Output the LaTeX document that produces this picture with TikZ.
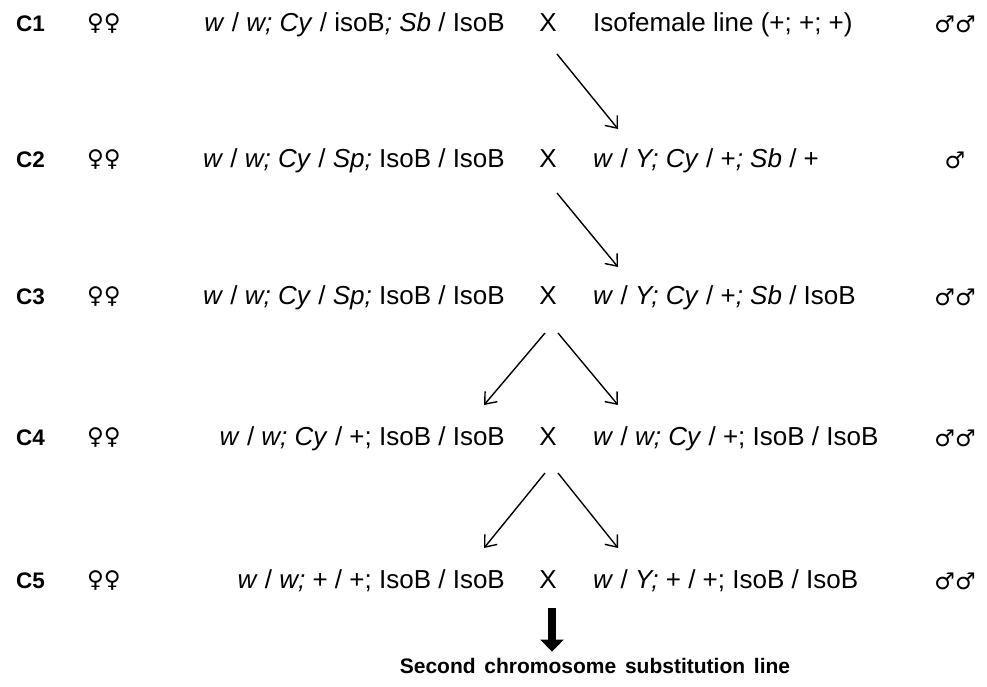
\documentclass[tikz,border=0pt]{standalone}
\usepackage{fontspec}
\setmainfont{Liberation Sans}
\newfontfamily\symfont{DejaVu Sans}
\newfontfamily\titlefont[WordSpace=1.5]{Liberation Sans}
\usetikzlibrary{arrows.meta,calc}
\tikzset{
  rowlabel/.style={font=\fontsize{22.5}{24}\selectfont\bfseries, inner sep=0pt, anchor=base west},
  sexsym/.style={font=\fontsize{23}{26}\symfont, inner sep=0pt},
  geno/.style={font=\fontsize{26}{28}\selectfont, inner sep=0pt},
  cross/.style={font=\fontsize{26}{28}\selectfont, inner sep=0pt, anchor=base},
  arr/.style={-{Straight Barb[length=10pt,width=16pt]}, line width=1.4pt},
  bigarr/.style={-{Triangle[length=12pt,width=23pt]}, line width=8pt},
}
\begin{document}
\begin{tikzpicture}[x=1pt,y=-1pt]
\useasboundingbox (0,0) rectangle (987,686);

% generation C1
\node[rowlabel] (c1) at (16,31) {C1};
\node[sexsym] (f1) at (104,24) {♀♀};
\node[geno, anchor=base east] (l1) at (505,31) {\textit{w} / \textit{w; Cy} / isoB\textit{; Sb} / IsoB};
\node[cross] (x1) at (548,31) {X};
\node[geno, anchor=base west] (r1) at (593,31) {Isofemale line (+; +; +)};
\node[sexsym] (m1) at (955,24) {♂♂};

% generation C2
\node[rowlabel] (c2) at (16,167) {C2};
\node[sexsym] (f2) at (104,160) {♀♀};
\node[geno, anchor=base east] (l2) at (505,167) {\textit{w} / \textit{w; Cy} / \textit{Sp;} IsoB / IsoB};
\node[cross] (x2) at (548,167) {X};
\node[geno, anchor=base west] (r2) at (593,167) {\textit{w} / \textit{Y; Cy} / +\textit{; Sb} / +};
\node[sexsym] (m2) at (955,160) {♂};

% generation C3
\node[rowlabel] (c3) at (16,304) {C3};
\node[sexsym] (f3) at (104,297) {♀♀};
\node[geno, anchor=base east] (l3) at (505,304) {\textit{w} / \textit{w; Cy} / \textit{Sp;} IsoB / IsoB};
\node[cross] (x3) at (548,304) {X};
\node[geno, anchor=base west] (r3) at (593,304) {\textit{w} / \textit{Y; Cy} / +\textit{; Sb} / IsoB};
\node[sexsym] (m3) at (955,297) {♂♂};

% generation C4
\node[rowlabel] (c4) at (16,445) {C4};
\node[sexsym] (f4) at (104,438) {♀♀};
\node[geno, anchor=base east] (l4) at (505,445) {\textit{w} / \textit{w; Cy} / +; IsoB / IsoB};
\node[cross] (x4) at (548,445) {X};
\node[geno, anchor=base west] (r4) at (593,445) {\textit{w} / \textit{w; Cy} / +; IsoB / IsoB};
\node[sexsym] (m4) at (955,438) {♂♂};

% generation C5
\node[rowlabel] (c5) at (16,588) {C5};
\node[sexsym] (f5) at (104,581) {♀♀};
\node[geno, anchor=base east] (l5) at (505,588) {\textit{w} / \textit{w;} + / +; IsoB / IsoB};
\node[cross] (x5) at (548,588) {X};
\node[geno, anchor=base west] (r5) at (593,588) {\textit{w} / \textit{Y;} + / +; IsoB / IsoB};
\node[sexsym] (m5) at (955,581) {♂♂};

% resulting line
\node[font=\fontsize{21}{24}\titlefont\bfseries, inner sep=0pt, anchor=base] (res) at (595,673) {Second chromosome substitution line};

% crosses between generations
\draw[arr] ($(x1.base)+(9,23)$) -- ($(r2.base west)+(25,-38)$);
\draw[arr] ($(x2.base)+(9,26)$) -- ($(r3.base west)+(25,-37)$);
\draw[arr] ($(x3.base)+(-3,29)$) -- ($(l4.base east)+(-21,-40)$);
\draw[arr] ($(x3.base)+(10,29)$) -- ($(r4.base west)+(25,-40)$);
\draw[arr] ($(x4.base)+(-3,28)$) -- ($(l5.base east)+(-21,-40)$);
\draw[arr] ($(x4.base)+(10,28)$) -- ($(r5.base west)+(25,-40)$);
\draw[bigarr] ($(x5.base)+(4,20)$) -- ($(res.north)+(-43,-6)$);
\end{tikzpicture}
\end{document}
